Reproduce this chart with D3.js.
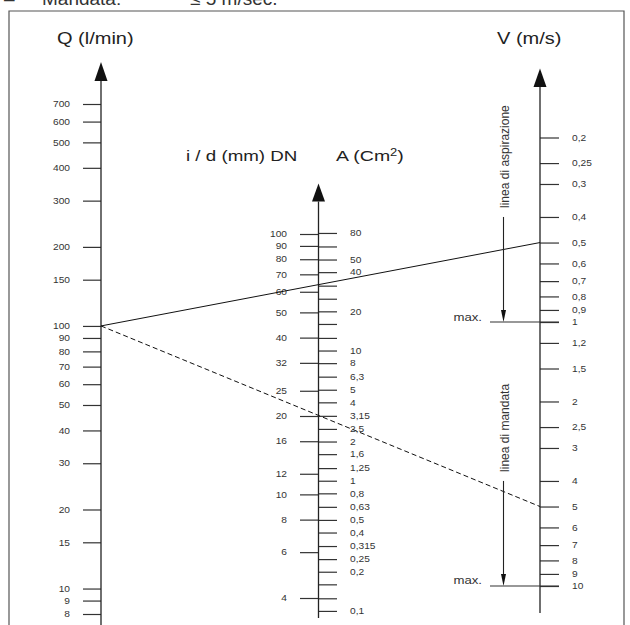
<!DOCTYPE html>
<html lang="it">
<head>
  <meta charset="UTF-8">
  <title>Nomogramma Q / DN / V</title>
  <script src="https://d3js.org/d3.v7.min.js"></script>
  <style>
    body { margin: 0; background: #fff; }
    text { font-family: "Liberation Sans", Arial, sans-serif; fill: #333; }
    .tick line { stroke: #333; stroke-width: 1.2; }
    .tick text { font-size: 8.5px; fill: #333; }
    .title { font-size: 16px; fill: #222; }
  </style>
</head>
<body>
  <div id="chart"></div>

  <script>
    // --- data ---
    const qTicks = [700, 600, 500, 400, 300, 200, 150, 100, 90, 80, 70, 60, 50, 40, 30, 20, 15, 10, 9, 8];
    const dnTicks = [100, 90, 80, 70, 60, 50, 40, 32, 25, 20, 16, 12, 10, 8, 6, 4];
    const areaTicks = [80, 63, 50, 40, 31.5, 25, 20, 16, 12.5, 10, 8, 6.3, 5, 4, 3.15, 2.5, 2, 1.6, 1.25, 1,
                       0.8, 0.63, 0.5, 0.4, 0.315, 0.25, 0.2, 0.16, 0.125, 0.1];
    const areaUnlabeled = [63, 31.5, 25, 16, 12.5, 0.16, 0.125];
    const vTicks = [0.2, 0.25, 0.3, 0.4, 0.5, 0.6, 0.7, 0.8, 0.9, 1, 1.2, 1.5, 2, 2.5, 3, 4, 5, 6, 7, 8, 9, 10];

    // example readings: Q = 100 l/min joined to V = 0.5 (suction) and V = 5 (delivery)
    const exampleQ = [100, 100];
    const exampleV = [0.5, 5];
    const exampleDashed = [false, true];

    // limits on the V axis: arrow start, max line
    const limitLabels = ["linea di aspirazione", "linea di mandata"];
    const limitFrom = [0.4, 4];
    const limitMax = [1, 10];

    const width = 630;
    const height = 625;
    const qX = 101, dX = 318.5, vX = 540;
    const stretchX = 1.2;

    const svg = d3.select("#chart")
      .append("svg")
      .attr("width", width)
      .attr("height", height);

    // scales (all logarithmic, as in the nomogram)
    const qScale = d3.scaleLog().domain([8, 700]).range([614, 104]);
    const dScale = d3.scaleLog().domain([4, 100]).range([598, 234]);
    const areaOf = d => Math.PI * (d / 10) * (d / 10) / 4; // mm -> cm2
    const aScale = d3.scaleLog().domain([areaOf(4), areaOf(100)]).range([598, 234]);
    const vScale = d3.scaleLog().domain([0.2, 10]).range([137.5, 586]);

    const fmt = v => String(v).replace(".", ",");

    // widen text horizontally like the reference scan
    function stretch(sel, k) {
      sel.each(function () {
        const t = d3.select(this);
        const x = +t.attr("x") || 0;
        t.attr("transform", `translate(${x},0) scale(${k},1) translate(${-x},0)`);
      });
    }

    // frame
    svg.append("path")
      .attr("d", `M9,${height + 5} V11 H624 V${height + 5}`)
      .attr("fill", "none")
      .attr("stroke", "#555")
      .attr("stroke-width", 1.2);

    // heading, cut by the top edge as in the scan
    svg.append("text").attr("x", 4).attr("y", 5).style("font-size", "19px").attr("fill", "#333").text("–");
    svg.append("text").attr("x", 42).attr("y", 5).style("font-size", "19px").attr("fill", "#333").text("Mandata:");
    svg.append("text").attr("x", 190).attr("y", 5).style("font-size", "19px").attr("fill", "#333").text("≤ 5 m/sec.");

    function axisLine(x, tipY, baseY, endY) {
      svg.append("line")
        .attr("x1", x).attr("x2", x)
        .attr("y1", baseY).attr("y2", endY)
        .attr("stroke", "#222").attr("stroke-width", 1.3);
      svg.append("path")
        .attr("d", `M${x},${tipY} L${x - 6.5},${baseY} L${x + 6.5},${baseY} Z`)
        .attr("fill", "#111");
    }

    function drawAxis(axis, x) {
      const g = svg.append("g")
        .attr("transform", `translate(${x},0)`)
        .call(axis);
      g.select(".domain").remove();
      stretch(g.selectAll(".tick text"), stretchX);
      return g;
    }

    // Q axis
    drawAxis(d3.axisLeft(qScale).tickValues(qTicks).tickSize(18).tickPadding(13).tickFormat(d => d), qX);
    axisLine(qX, 62, 81, height + 5);

    // DN axis (left side) and area axis (right side)
    drawAxis(d3.axisLeft(dScale).tickValues(dnTicks).tickSize(18.5).tickPadding(13).tickFormat(d => d), dX);
    drawAxis(d3.axisRight(aScale).tickValues(areaTicks).tickSize(18.5).tickPadding(13)
      .tickFormat(d => areaUnlabeled.includes(d) ? "" : fmt(d)), dX);
    axisLine(dX, 183.5, 201.5, 618);

    // V axis
    drawAxis(d3.axisRight(vScale).tickValues(vTicks).tickSize(19).tickPadding(13).tickFormat(fmt), vX);
    axisLine(vX, 68.5, 87, 613);

    // titles
    const titles = [
      { x: 57, y: 44, s: 16, t: "Q (l/min)" },
      { x: 497, y: 44, s: 16, t: "V (m/s)" },
      { x: 186, y: 161, s: 15, t: "i / d (mm) DN" }
    ];
    titles.forEach(d => {
      const t = svg.append("text").attr("class", "title")
        .attr("x", d.x).attr("y", d.y).style("font-size", d.s + "px").text(d.t);
      stretch(t, 1.25);
    });
    const aTitle = svg.append("text").attr("class", "title")
      .attr("x", 336).attr("y", 161).style("font-size", "15px");
    aTitle.append("tspan").text("A (Cm");
    aTitle.append("tspan").attr("dy", -5).style("font-size", "10px").text("2");
    aTitle.append("tspan").attr("dy", 5).text(")");
    stretch(aTitle, 1.3);

    // example lines Q -> V
    exampleQ.forEach((q, i) => {
      svg.append("line")
        .attr("x1", qX).attr("y1", qScale(q))
        .attr("x2", vX).attr("y2", vScale(exampleV[i]))
        .attr("stroke", "#111")
        .attr("stroke-width", 1)
        .attr("stroke-dasharray", exampleDashed[i] ? "5,3" : null);
    });

    // suction / delivery limits
    const arrowX = 503.5;
    limitLabels.forEach((label, i) => {
      const y0 = vScale(limitFrom[i]);
      const y1 = vScale(limitMax[i]);

      svg.append("text")
        .attr("transform", `translate(${arrowX + 5},${y0 - 9}) rotate(-90)`)
        .style("font-size", "12px")
        .attr("fill", "#222")
        .text(label);

      svg.append("line")
        .attr("x1", arrowX).attr("x2", arrowX)
        .attr("y1", y0).attr("y2", y1 - 10)
        .attr("stroke", "#222").attr("stroke-width", 1.1);
      svg.append("path")
        .attr("d", `M${arrowX},${y1} L${arrowX - 2.5},${y1 - 12} L${arrowX + 2.5},${y1 - 12} Z`)
        .attr("fill", "#111");

      svg.append("line")
        .attr("x1", 490).attr("x2", vX + 19)
        .attr("y1", y1).attr("y2", y1)
        .attr("stroke", "#333").attr("stroke-width", 1.2);

      const m = svg.append("text")
        .attr("x", 482).attr("y", y1 - 1.5)
        .attr("text-anchor", "end")
        .style("font-size", "11px")
        .attr("fill", "#333")
        .text("max.");
      stretch(m, stretchX);
    });
  </script>
</body>
</html>
